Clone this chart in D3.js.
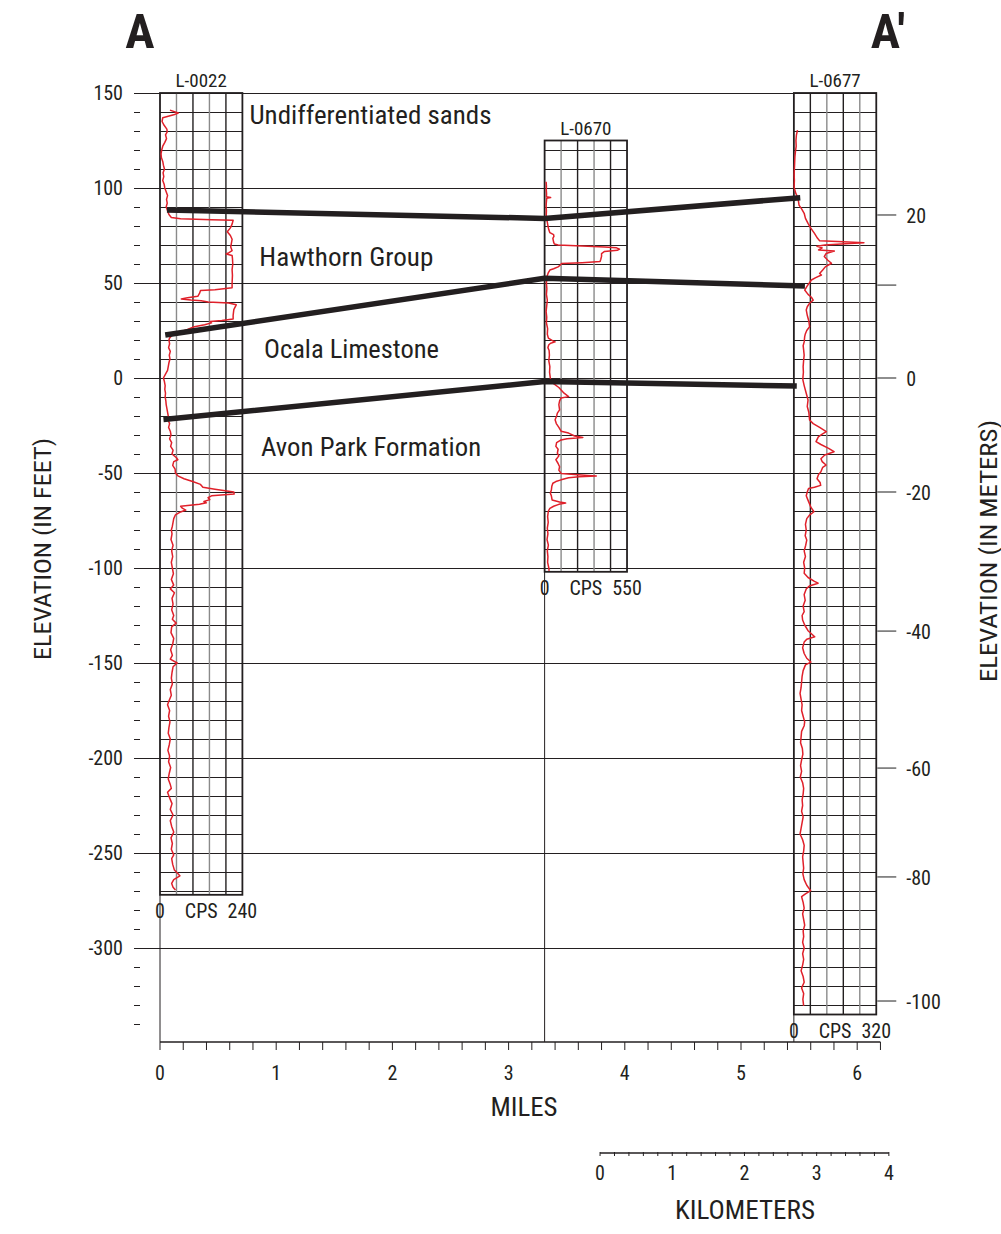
<!DOCTYPE html>
<html>
<head>
<meta charset="utf-8">
<script src="https://cdn.jsdelivr.net/npm/d3@7"></script>
<style>
  html, body { margin: 0; padding: 0; background: #fff; }
  svg { display: block; }
  text { font-family: "Liberation Sans Narrow", "Roboto Condensed", "DejaVu Sans Condensed", "Liberation Sans", sans-serif; fill: #231f20; }
</style>
</head>
<body>
<svg id="chart" width="1001" height="1234"></svg>
<script>
// ---------------- DATA ----------------
const wellNames = ["L-0022", "L-0670", "L-0677"];
const wellMiles = [0, 3.31, 5.455];
const wellTopFt = [150, 125, 150];
const wellBottomFt = [-272, -102, -335];
const wellMaxCps = [240, 550, 320];

// gamma logs: [elevation ft, counts per second]
const logL0022 = [
  [141,29],[139.5,53],[138.5,40],[137,8],[135,6],[133,12],[131,20],[129.5,21],[128,16],[126,19],[124,14],[122,8],
  [120,5],[118,3],[116,4],[114,8],[112,10],[110,13],[108,9],[106,11],[104,8],[102,12],[100,14],[98,18],[96,22],
  [94,19],[92,21],[90,18],[88,22],[86,26],[84.5,33],[83.8,60],[83.3,150],[83,213],[81,210],[79,205],[77,196],
  [75,205],[73,210],[71,208],[69,206],[67,210],[66,201],[65.3,193],[64.5,210],[63,211],[60,212],[57,210],[54,211],
  [50,210],[47.5,210],[46.5,160],[46,118],[44.5,115],[43,110],[42.2,80],[41.6,62],[41,90],[40.6,120],[40,140],
  [39.5,200],[38.5,222],[36,215],[33,213],[31,213],[30.3,180],[29.8,146],[29,150],[28,130],[27,100],[25.5,80],
  [24,55],[22.5,35],[21,28],[20,26],[18,28],[16,25],[14,30],[12,27],[10,29],[8,26],[6,24],[4,22],[2,16],[0,10],
  [-2,13],[-4,15],[-6,14],[-8,16],[-10,15],[-12,17],[-14,18],[-16,20],[-18,22],[-20,24],[-22,23],[-24,28],[-26,25],
  [-28,30],[-30,32],[-32,28],[-34,34],[-36,31],[-38,38],[-40,35],[-42,48],[-43,52],[-44,40],[-46,37],[-48,44],
  [-50,45],[-51.5,52],[-53,70],[-54.5,95],[-56,118],[-57.5,125],[-58.5,160],[-60,215],[-61,216],[-62,150],
  [-63,140],[-64,145],[-65,128],[-65.7,135],[-66.5,115],[-67.5,60],[-68.5,65],[-69.5,75],[-70.5,60],[-72,45],
  [-74,40],[-76,38],[-78,36],[-80,33],[-82,35],[-85,32],[-88,38],[-91,34],[-94,37],[-97,33],[-100,36],[-103,39],
  [-106,33],[-109,40],[-111,30],[-113,42],[-116,35],[-119,38],[-122,34],[-125,40],[-127,36],[-129,47],[-131,34],
  [-134,32],[-137,40],[-140,37],[-143,31],[-146,36],[-148,30],[-150,50],[-152,38],[-155,35],[-158,33],[-161,36],
  [-164,30],[-167,33],[-170,26],[-172,22],[-175,28],[-178,25],[-181,29],[-184,26],[-187,24],[-190,30],[-193,27],
  [-196,23],[-199,28],[-202,25],[-205,31],[-208,27],[-211,24],[-214,30],[-216,33],[-218,22],[-221,28],[-224,35],
  [-227,30],[-230,38],[-233,30],[-236,34],[-239,40],[-242,32],[-245,36],[-248,33],[-251,40],[-253,34],[-256,37],
  [-259,42],[-262,58],[-264,40],[-266,34],[-268,38],[-269.5,45]
];
const logL0670 = [
  [103.3,10],[101,12],[99,11],[97,13],[95.4,12],[95,40],[94.6,14],[92,11],[90,10],[88,12],[86,11],[84.5,12],
  [82,18],[80,22],[78,28],[76.5,35],[75.5,60],[74.5,62],[73.5,55],[71.5,60],[70.5,65],[70,90],[69.5,250],
  [69,400],[68.5,480],[67.8,500],[67.2,485],[66.6,400],[65.5,380],[64,380],[62.5,375],[61.3,370],[60.7,250],
  [60.2,112],[59.5,105],[58.5,90],[57.5,60],[56.8,35],[55.5,25],[54,18],[52,14],[50,12],[47,15],[44,12],[41,18],
  [38,14],[35,10],[32,14],[29,12],[26,20],[23,18],[21,25],[19.5,55],[19,70],[18.3,40],[17.5,28],[16,22],[14.5,30],
  [12,32],[9,28],[6,35],[3,33],[0,38],[-1,40],[-3,60],[-5,95],[-6.3,110],[-8,130],[-9.8,160],[-10.5,110],
  [-12,100],[-14,95],[-16.8,100],[-18.5,85],[-20,80],[-22,70],[-24,78],[-26,95],[-28,110],[-29,160],[-30.5,200],
  [-31.3,255],[-32,150],[-32.6,110],[-34,80],[-36,75],[-37.5,90],[-39.6,85],[-41,95],[-43,75],[-45,90],
  [-46.7,100],[-48.5,95],[-50.2,110],[-50.8,200],[-51.3,290],[-51.6,345],[-52,230],[-52.5,160],[-53.6,110],
  [-54.5,75],[-55.4,55],[-57,48],[-59,45],[-60.6,38],[-62,45],[-64.2,50],[-65.3,100],[-65.8,140],[-66.5,95],
  [-67.5,60],[-68.6,35],[-70,25],[-73,20],[-76,24],[-79,18],[-82,22],[-85,16],[-88,25],[-91,18],[-94,22],
  [-97,20],[-100,28],[-101.5,30]
];
const logL0677 = [
  [130.5,14],[128,10],[125,8],[122,9],[119,6],[116.5,4],[113,3],[110,2],[107,1],[104,2],[101,1],[99.8,2],[97,8],
  [95.4,14],[93,18],[91,20],[89,30],[86.7,40],[84,45],[81.4,55],[79,65],[76.1,80],[73.5,92],[72.3,100],
  [71.8,170],[71.2,272],[70.7,200],[70,120],[69.3,90],[68.5,110],[67.4,96],[66.8,157],[65.5,125],[63.9,118],
  [62,132],[60.4,146],[58.5,122],[56.8,112],[55,100],[54.2,107],[52.8,85],[51.6,68],[50,60],[48.5,52],[46.3,42],
  [44,55],[42.5,68],[41,75],[39.5,62],[37.5,52],[35.8,48],[33,52],[30,58],[27,61],[25,50],[23,44],[21.8,42],
  [19,40],[17,36],[14.7,38],[12,40],[9.5,38],[6,36],[3,37],[0,35],[-1,35],[-4,40],[-8,48],[-11.6,55],[-15,52],
  [-18,58],[-22.1,61],[-24,75],[-26,100],[-28.2,126],[-29.5,110],[-31,95],[-33.5,86],[-35,105],[-37,135],
  [-38.8,156],[-40.5,120],[-42.5,105],[-44,110],[-45.8,125],[-47,112],[-49.3,105],[-51,95],[-53,90],[-55,102],
  [-56.5,104],[-57.5,80],[-58.1,57],[-60,52],[-62,48],[-64,54],[-66,60],[-68,66],[-70.4,78],[-72,62],[-74,50],
  [-77,45],[-80,48],[-83,44],[-85.3,50],[-88,46],[-91,40],[-94,45],[-97,38],[-100,42],[-102.8,40],[-105,55],
  [-107,80],[-108,94],[-109.5,60],[-111,48],[-114,40],[-117,44],[-120,36],[-123,40],[-125,32],[-127.4,34],
  [-130,42],[-133,55],[-136.2,81],[-137.5,50],[-139,40],[-142,34],[-145,40],[-147.5,50],[-149.5,66],[-151,45],
  [-154,36],[-157,32],[-160,30],[-163,28],[-166,24],[-169,28],[-172,32],[-175,30],[-178,36],[-181,42],[-183,40],
  [-186,30],[-189,28],[-192,26],[-195,33],[-198,35],[-201,30],[-204,26],[-207,30],[-210,25],[-213,34],[-216,38],
  [-219,36],[-222,32],[-225,34],[-228,30],[-231,36],[-234,32],[-237,28],[-240,24],[-243,34],[-246,40],[-249,38],
  [-252,34],[-255,36],[-258,38],[-261,35],[-264,40],[-267,50],[-269.8,65],[-271.5,45],[-273,30],[-276,36],
  [-279,40],[-282,34],[-285,38],[-288,42],[-291,36],[-294,38],[-297,34],[-300,40],[-303,34],[-306,38],[-309,34],
  [-312,28],[-315,36],[-318,40],[-321,30],[-324,38],[-327,35],[-330.5,38]
];
const wellLogs = [logL0022, logL0670, logL0677];

// formation names and contacts (elevation in feet at each well, line ends in miles)
const formationNames = ["Undifferentiated sands", "Hawthorn Group", "Ocala Limestone", "Avon Park Formation"];
const contactMiles = [[0.06, 3.31, 5.51], [0.045, 3.31, 5.55], [0.03, 3.31, 5.48]];
const contactFt = [[88.4, 84.0, 94.9], [22.6, 52.5, 48.4], [-21.8, -1.9, -4.2]];

// axes
const feetLabels = [150, 100, 50, 0, -50, -100, -150, -200, -250, -300];
const mileLabels = [0, 1, 2, 3, 4, 5, 6];
const kmLabels = [0, 1, 2, 3, 4];
const meterTicks = [20, 10, 0, -20, -40, -60, -80, -100];
const meterTickLabels = ["20", "", "0", "-20", "-40", "-60", "-80", "-100"];
const meterTickAtFt = [85.8, 48.9, 0, -60, -133.2, -205.3, -262.6, -327.9]; // as printed on the source
const sectionEnds = ["A", "A'"];

// ---------------- DRAWING ----------------
const svg = d3.select("#chart");
const ink = "#231f20";
const red = "#e0202a";

const y = d3.scaleLinear().domain([150, -300]).range([93, 948]);
const x = d3.scaleLinear().domain([0, 6]).range([160, 857.2]);
const logW = 82.4;
const axisY = 1042;
const rightEdge = x(wellMiles[2]) + logW;

// section letters
svg.append("text").attr("x", 140).attr("y", 48).attr("text-anchor", "middle")
  .style("font-size", "49px").style("font-weight", "bold").text(sectionEnds[0]);
svg.append("text").attr("x", 888).attr("y", 48).attr("text-anchor", "middle")
  .style("font-size", "49px").style("font-weight", "bold").text(sectionEnds[1]);

// left feet axis: major gridlines + minor ticks
const gLeft = svg.append("g").attr("shape-rendering", "crispEdges");
gLeft.selectAll("line.grid").data(feetLabels).join("line")
  .attr("x1", 134).attr("x2", x(wellMiles[2]))
  .attr("y1", d => y(d)).attr("y2", d => y(d))
  .attr("stroke", ink).attr("stroke-width", 1);
gLeft.selectAll("line.minor").data(d3.range(150, -341, -10).filter(v => v % 50 !== 0)).join("line")
  .attr("x1", 134).attr("x2", 140)
  .attr("y1", d => y(d)).attr("y2", d => y(d))
  .attr("stroke", ink).attr("stroke-width", 1);
svg.append("g").selectAll("text").data(feetLabels).join("text")
  .attr("x", 123).attr("y", d => y(d) + 7).attr("text-anchor", "end")
  .style("font-size", "20px").text(d => d);
svg.append("text")
  .attr("transform", `translate(51,549) rotate(-90)`)
  .attr("text-anchor", "middle").style("font-size", "24px")
  .attr("textLength", 222).attr("lengthAdjust", "spacingAndGlyphs")
  .text("ELEVATION (IN FEET)");

// wells
wellNames.forEach((name, i) => {
  const left = x(wellMiles[i]);
  const top = y(wellTopFt[i]);
  const bot = y(wellBottomFt[i]);
  const cps = d3.scaleLinear().domain([0, wellMaxCps[i]]).range([left, left + logW]);
  const g = svg.append("g");
  g.append("rect").attr("x", left).attr("y", top).attr("width", logW).attr("height", bot - top)
    .attr("fill", "#fff");
  // horizontal 10-ft grid
  const hLines = d3.range(Math.ceil(wellBottomFt[i] / 10) * 10, wellTopFt[i] + 0.01, 10);
  g.append("g").attr("shape-rendering", "crispEdges")
    .selectAll("line").data(hLines).join("line")
    .attr("x1", left).attr("x2", left + logW)
    .attr("y1", d => y(d)).attr("y2", d => y(d))
    .attr("stroke", ink).attr("stroke-width", 1);
  // vertical columns
  const cols = [1, 2, 3, 4];
  const firstGray = i !== 2;
  g.append("g").selectAll("line").data(cols).join("line")
    .attr("x1", d => left + d * logW / 5).attr("x2", d => left + d * logW / 5)
    .attr("y1", top).attr("y2", bot)
    .attr("stroke", d => ((d % 2 === 1) === firstGray) ? "#8a8a8a" : ink)
    .attr("stroke-width", 1.4);
  g.append("rect").attr("x", left).attr("y", top).attr("width", logW).attr("height", bot - top)
    .attr("fill", "none").attr("stroke", ink).attr("stroke-width", 1.8);
  // line down to distance axis
  g.append("line").attr("x1", left).attr("x2", left).attr("y1", bot).attr("y2", axisY)
    .attr("stroke", ink).attr("stroke-width", 1);
  // gamma curve
  g.append("path").datum(wellLogs[i])
    .attr("d", d3.line().x(d => cps(d[1])).y(d => y(d[0])))
    .attr("fill", "none").attr("stroke", red).attr("stroke-width", 1.5).attr("stroke-linejoin", "round");
  // labels
  g.append("text").attr("x", left + logW / 2).attr("y", top - 6).attr("text-anchor", "middle")
    .style("font-size", "19px").text(name);
  const lbl = [[0, "0"], [wellMaxCps[i] / 2, "CPS"], [wellMaxCps[i], String(wellMaxCps[i])]];
  g.selectAll("text.c").data(lbl).join("text")
    .attr("x", d => cps(d[0])).attr("y", bot + 23).attr("text-anchor", "middle")
    .style("font-size", "20px").text(d => d[1]);
});

// formation contacts
const contactLine = d3.line().x(d => x(d[0])).y(d => y(d[1]));
contactFt.forEach((ft, k) => {
  svg.append("path").datum(ft.map((v, j) => [contactMiles[k][j], v]))
    .attr("d", contactLine).attr("fill", "none")
    .attr("stroke", ink).attr("stroke-width", 5.5).attr("stroke-linejoin", "round");
});

// formation labels
const fmtPos = [[0.77, 124], [0.855, 266], [0.895, 358], [0.87, 456]];
const fmtWidth = [242, 174, 175, 220];
formationNames.forEach((n, k) => {
  svg.append("text").attr("x", x(fmtPos[k][0])).attr("y", fmtPos[k][1])
    .style("font-size", "26px")
    .attr("textLength", fmtWidth[k]).attr("lengthAdjust", "spacingAndGlyphs")
    .text(n);
});

// right meters axis
const gRight = svg.append("g");
gRight.selectAll("line").data(meterTicks).join("line")
  .attr("x1", rightEdge + 1).attr("x2", rightEdge + 20)
  .attr("y1", (d, i) => y(meterTickAtFt[i])).attr("y2", (d, i) => y(meterTickAtFt[i]))
  .attr("stroke", "#444").attr("stroke-width", 1.2);
gRight.selectAll("text").data(meterTicks).join("text")
  .attr("x", rightEdge + 30).attr("y", (d, i) => y(meterTickAtFt[i]) + 8)
  .style("font-size", "20px").text((d, i) => meterTickLabels[i]);
svg.append("text")
  .attr("transform", `translate(989,551) rotate(-90)`)
  .attr("text-anchor", "middle").attr("dominant-baseline", "central")
  .style("font-size", "23px")
  .attr("textLength", 262).attr("lengthAdjust", "spacingAndGlyphs")
  .text("ELEVATION (IN METERS)");

// miles axis
const gMiles = svg.append("g").attr("transform", `translate(0,${axisY})`);
gMiles.append("line").attr("x1", x(0)).attr("x2", x(6.2)).attr("stroke", ink).attr("stroke-width", 1.5);
gMiles.selectAll("line.t").data(d3.range(0, 6.21, 0.2)).join("line")
  .attr("x1", d => x(d)).attr("x2", d => x(d)).attr("y1", 0).attr("y2", 8)
  .attr("stroke", ink).attr("stroke-width", 1);
gMiles.selectAll("text").data(mileLabels).join("text")
  .attr("x", d => x(d)).attr("y", 38).attr("text-anchor", "middle")
  .style("font-size", "20px").text(d => d);
svg.append("text").attr("x", 524).attr("y", 1116).attr("text-anchor", "middle")
  .style("font-size", "26px")
  .attr("textLength", 67).attr("lengthAdjust", "spacingAndGlyphs")
  .text("MILES");

// kilometers scale
const kmOriginMiles = 3.787;
const xKm = d3.scaleLinear().domain([0, 4]).range([x(kmOriginMiles), x(kmOriginMiles + 4 * 0.621371)]);
const gKm = svg.append("g").attr("transform", "translate(0,1153)");
gKm.append("line").attr("x1", xKm(0)).attr("x2", xKm(4)).attr("stroke", ink).attr("stroke-width", 1.3);
gKm.selectAll("line.t").data(d3.range(0, 4.01, 0.2)).join("line")
  .attr("x1", d => xKm(d)).attr("x2", d => xKm(d)).attr("y1", -1).attr("y2", 3)
  .attr("stroke", ink).attr("stroke-width", 1);
gKm.selectAll("text").data(kmLabels).join("text")
  .attr("x", d => xKm(d)).attr("y", 27).attr("text-anchor", "middle")
  .style("font-size", "20px").text(d => d);
svg.append("text").attr("x", 745).attr("y", 1219).attr("text-anchor", "middle")
  .style("font-size", "26px")
  .attr("textLength", 140).attr("lengthAdjust", "spacingAndGlyphs")
  .text("KILOMETERS");
</script>
</body>
</html>
